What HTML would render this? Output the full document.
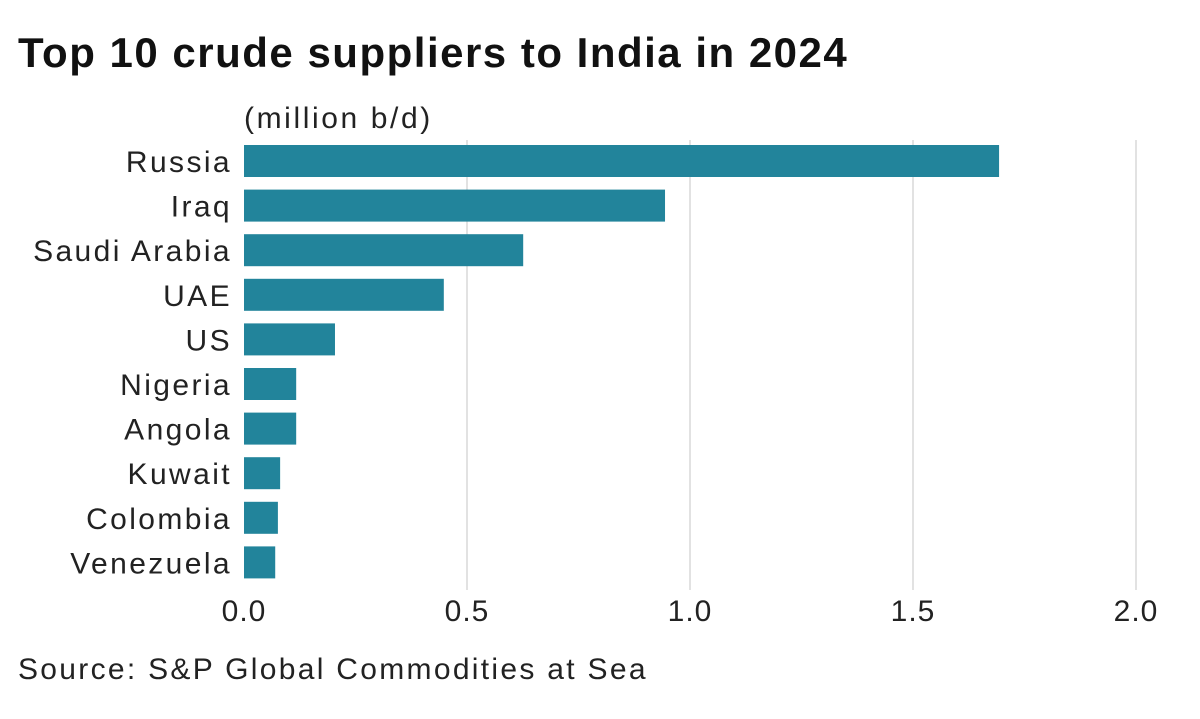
<!DOCTYPE html>
<html><head><meta charset="utf-8"><style>
body{margin:0;background:#fff;width:1200px;height:714px;overflow:hidden;font-family:"Liberation Sans",sans-serif;}
</style></head><body>
<svg width="1200" height="714">
<text x="18" y="67" font-size="42" letter-spacing="1.5" font-weight="bold" fill="#111">Top 10 crude suppliers to India in 2024</text>
<text x="244" y="128" font-size="30" letter-spacing="2.6" fill="#222">(million b/d)</text>
<g id="grid"></g>
<g id="bars"></g>
<g id="labels"></g>
<g id="ticks"></g>
<text x="18" y="679" font-size="30" letter-spacing="2.3" fill="#222">Source: S&amp;P Global Commodities at Sea</text>
</svg>
<script>
const categories=["Russia","Iraq","Saudi Arabia","UAE","US","Nigeria","Angola","Kuwait","Colombia","Venezuela"];
const values=[1.693,0.944,0.626,0.448,0.204,0.117,0.117,0.081,0.076,0.070];
const tickValues=[0,0.5,1,1.5,2];
const tickLabels=["0.0","0.5","1.0","1.5","2.0"];
const ns="http://www.w3.org/2000/svg";
const x=v=>244+v*446;
const y=i=>145+i*44.6;
function mk(t,a,p){const e=document.createElementNS(ns,t);for(const k in a)e.setAttribute(k,a[k]);p.appendChild(e);return e;}
const g=document.getElementById('grid'),b=document.getElementById('bars'),l=document.getElementById('labels'),tk=document.getElementById('ticks');
tickValues.forEach((v,i)=>{
 if(v>0){const ln=mk('line',{x1:x(v),x2:x(v),y1:140,y2:590,stroke:'#d8d8d8','stroke-width':1.5},g);
 
 }
 const t=mk('text',{x:x(v),y:621,'font-size':30,'letter-spacing':1,fill:'#222','text-anchor':'middle'},tk);t.textContent=tickLabels[i];
 
 
});
categories.forEach((c,i)=>{
 const r=mk('rect',{x:x(0),y:y(i),width:x(values[i])-x(0),height:32,fill:'#22849b'},b);
 
 
 const t=mk('text',{x:232,y:y(i)+27,'font-size':30,'letter-spacing':2.4,fill:'#222','text-anchor':'end'},l);t.textContent=c;
 
 
});
</script>
</body></html>
